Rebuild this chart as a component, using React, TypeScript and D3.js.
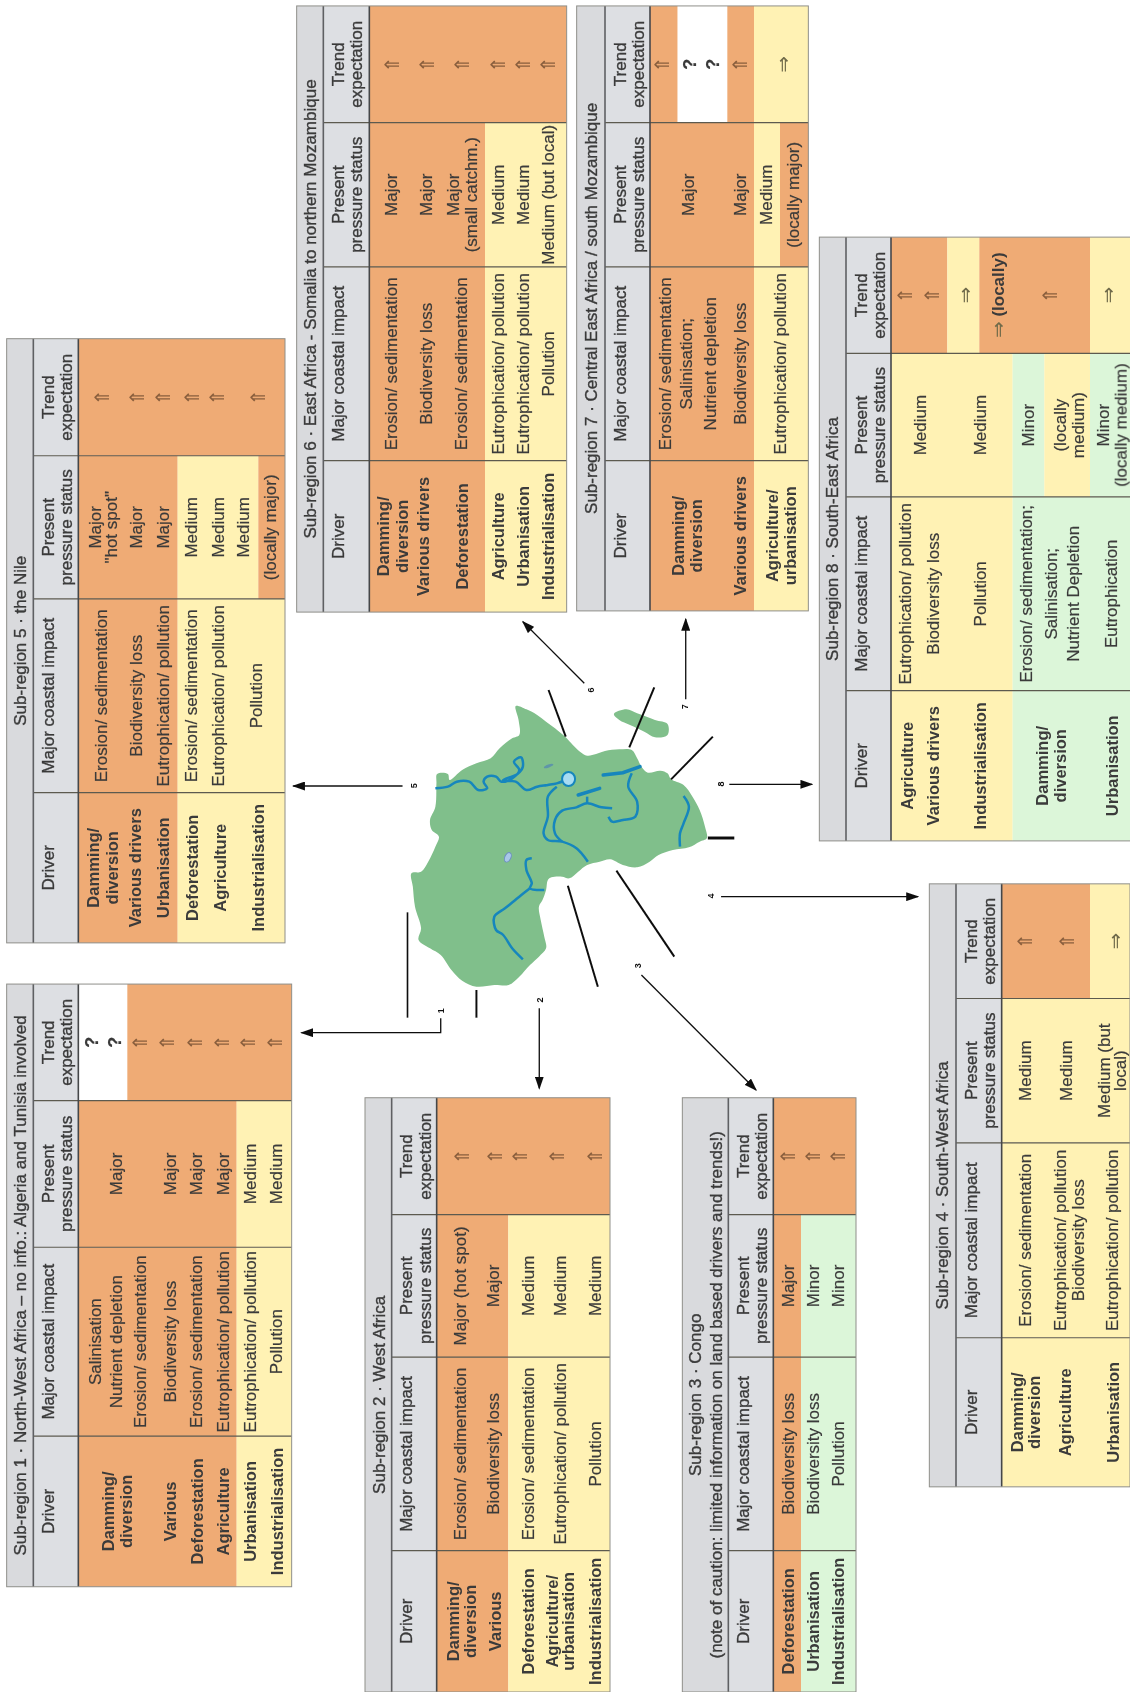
import React from 'react';
import * as d3 from 'd3';

type Pt = [number, number];
type Level = 'major' | 'medium' | 'minor' | 'none';

const FONT = '"Liberation Sans", Arial, "DejaVu Sans", sans-serif';
const INK = '#3a3a3a';
const levelColor: Record<Level, string> = {
    major: '#efab74',
    medium: '#fff2b4',
    minor: '#dcf6d9',
    none: '#ffffff',
};

// Sub-region 1
const r1Title = ['Sub-region 1 · North-West Africa – no info.: Algeria and Tunisia involved'];
const r1Drivers = ['Damming/', 'diversion', 'Various', 'Deforestation', 'Agriculture', 'Urbanisation', 'Industrialisation'];
const r1Impacts = ['Salinisation', 'Nutrient depletion', 'Erosion/ sedimentation', 'Biodiversity loss', 'Erosion/ sedimentation', 'Eutrophication/ pollution', 'Eutrophication/ pollution', 'Pollution'];
const r1Status = ['Major', 'Major', 'Major', 'Major', 'Medium', 'Medium'];
const r1Trend = ['?', '?', '⇑', '⇑', '⇑', '⇑', '⇑', '⇑'];
const r1DriverBands: Level[] = ['major', 'medium'];
const r1StatusBands: Level[] = ['major', 'medium'];
const r1TrendBands: Level[] = ['none', 'major'];

// Sub-region 2
const r2Title = ['Sub-region 2 · West Africa'];
const r2Drivers = ['Damming/', 'diversion', 'Various', 'Deforestation', 'Agriculture/', 'urbanisation', 'Industrialisation'];
const r2Impacts = ['Erosion/ sedimentation', 'Biodiversity loss', 'Erosion/ sedimentation', 'Eutrophication/ pollution', 'Pollution'];
const r2Status = ['Major (hot spot)', 'Major', 'Medium', 'Medium', 'Medium'];
const r2Trend = ['⇑', '⇑', '⇑', '⇑', '⇑'];
const r2DriverBands: Level[] = ['major', 'medium'];
const r2StatusBands: Level[] = ['major', 'medium'];
const r2TrendBands: Level[] = ['major'];

// Sub-region 3
const r3Title = ['Sub-region 3 · Congo', '(note of caution: limited information on land based drivers and trends!)'];
const r3Drivers = ['Deforestation', 'Urbanisation', 'Industrialisation'];
const r3Impacts = ['Biodiversity loss', 'Biodiversity loss', 'Pollution'];
const r3Status = ['Major', 'Minor', 'Minor'];
const r3Trend = ['⇑', '⇑', '⇑'];
const r3DriverBands: Level[] = ['major', 'minor'];
const r3StatusBands: Level[] = ['major', 'minor'];
const r3TrendBands: Level[] = ['major'];

// Sub-region 4
const r4Title = ['Sub-region 4 · South-West Africa'];
const r4Drivers = ['Damming/', 'diversion', 'Agriculture', 'Urbanisation'];
const r4Impacts = ['Erosion/ sedimentation', 'Eutrophication/ pollution', 'Biodiversity loss', 'Eutrophication/ pollution'];
const r4Status = ['Medium', 'Medium', 'Medium (but', 'local)'];
const r4Trend = ['⇑', '⇑', '⇒'];
const r4DriverBands: Level[] = ['medium'];
const r4StatusBands: Level[] = ['medium'];
const r4TrendBands: Level[] = ['major', 'medium'];

// Sub-region 5
const r5Title = ['Sub-region 5 · the Nile'];
const r5Drivers = ['Damming/', 'diversion', 'Various drivers', 'Urbanisation', 'Deforestation', 'Agriculture', 'Industrialisation'];
const r5Impacts = ['Erosion/ sedimentation', 'Biodiversity loss', 'Eutrophication/ pollution', 'Erosion/ sedimentation', 'Eutrophication/ pollution', 'Pollution'];
const r5Status = ['Major', '"hot spot"', 'Major', 'Major', 'Medium', 'Medium', 'Medium', '(locally major)'];
const r5Trend = ['⇑', '⇑', '⇑', '⇑', '⇑', '⇑'];
const r5DriverBands: Level[] = ['major', 'medium'];
const r5StatusBands: Level[] = ['major', 'medium', 'major'];
const r5TrendBands: Level[] = ['major'];

// Sub-region 6
const r6Title = ['Sub-region 6 · East Africa - Somalia to northern Mozambique'];
const r6Drivers = ['Damming/', 'diversion', 'Various drivers', 'Deforestation', 'Agriculture', 'Urbanisation', 'Industrialisation'];
const r6Impacts = ['Erosion/ sedimentation', 'Biodiversity loss', 'Erosion/ sedimentation', 'Eutrophication/ pollution', 'Eutrophication/ pollution', 'Pollution'];
const r6Status = ['Major', 'Major', 'Major', '(small catchm.)', 'Medium', 'Medium', 'Medium (but local)'];
const r6Trend = ['⇑', '⇑', '⇑', '⇑', '⇑', '⇑'];
const r6DriverBands: Level[] = ['major', 'medium'];
const r6StatusBands: Level[] = ['major', 'medium'];
const r6TrendBands: Level[] = ['major'];

// Sub-region 7
const r7Title = ['Sub-region 7 · Central East Africa / south Mozambique'];
const r7Drivers = ['Damming/', 'diversion', 'Various drivers', 'Agriculture/', 'urbanisation'];
const r7Impacts = ['Erosion/ sedimentation', 'Salinisation;', 'Nutrient depletion', 'Biodiversity loss', 'Eutrophication/ pollution'];
const r7Status = ['Major', 'Major', 'Medium', '(locally major)'];
const r7Trend = ['⇑', '?', '?', '⇑', '⇒'];
const r7DriverBands: Level[] = ['major', 'medium'];
const r7StatusBands: Level[] = ['major', 'medium', 'major'];
const r7TrendBands: Level[] = ['major', 'none', 'major', 'medium'];

// Sub-region 8
const r8Title = ['Sub-region 8 · South-East Africa'];
const r8Drivers = ['Agriculture', 'Various drivers', 'Industrialisation', 'Damming/', 'diversion', 'Urbanisation'];
const r8Impacts = ['Eutrophication/ pollution', 'Biodiversity loss', 'Pollution', 'Erosion/ sedimentation;', 'Salinisation;', 'Nutrient Depletion', 'Eutrophication'];
const r8Status = ['Medium', 'Medium', 'Minor', '(locally', 'medium)', 'Minor', '(locally medium)'];
const r8Trend = ['⇑', '⇑', '⇒', '⇒ (locally)', '⇑', '⇒'];
const r8DriverBands: Level[] = ['medium', 'minor'];
const r8StatusBands: Level[] = ['medium', 'minor', 'medium', 'minor'];
const r8TrendBands: Level[] = ['major', 'medium', 'major', 'medium'];

const columnHeads = [['Driver'], ['Major coastal impact'], ['Present', 'pressure status'], ['Trend', 'expectation']];

// Everything below in a layout is measured in the crop the table was read from.
interface Layout {
    crop: [number, number, number, number];
    frame: [number, number, number, number];
    titleEnd: number;
    headEnd: number;
    seps: number[];
    titleRows: number[];
    driverRows: number[];
    impactRows: number[];
    statusRows: number[];
    trendRows: number[];
    driverEdges: number[];
    statusEdges: number[];
    trendEdges: number[];
}

const r1Layout: Layout = {
    crop: [0, 970, 300, 630], frame: [20, 875, 35, 1535], titleEnd: 100, headEnd: 235, seps: [1160, 690, 325],
    titleRows: [62], driverRows: [325, 378, 510, 590, 670, 750, 830],
    impactRows: [285, 350, 420, 510, 590, 670, 750, 830], statusRows: [350, 510, 590, 670, 750, 830],
    trendRows: [275, 345, 420, 500, 585, 665, 745, 825],
    driverEdges: [710], statusEdges: [710], trendEdges: [382],
};
const r2Layout: Layout = {
    crop: [360, 1090, 260, 607], frame: [15, 750, 20, 1555], titleEnd: 95, headEnd: 230, seps: [1190, 690, 322],
    titleRows: [58], driverRows: [280, 330, 405, 505, 575, 625, 705],
    impactRows: [300, 400, 505, 600, 705], statusRows: [300, 400, 505, 600, 705],
    trendRows: [305, 405, 480, 590, 705],
    driverEdges: [445], statusEdges: [445], trendEdges: [],
};
const r3Layout: Layout = {
    crop: [675, 1090, 200, 607], frame: [22, 543, 20, 1555], titleEnd: 160, headEnd: 295, seps: [1190, 690, 322],
    titleRows: [62, 125], driverRows: [340, 415, 490],
    impactRows: [340, 415, 490], statusRows: [340, 415, 490], trendRows: [340, 415, 490],
    driverEdges: [378], statusEdges: [378], trendEdges: [],
};
const r4Layout: Layout = {
    crop: [920, 870, 210, 620], frame: [28, 630, 35, 1560], titleEnd: 108, headEnd: 245, seps: [1183, 690, 325],
    titleRows: [68], driverRows: [290, 342, 435, 578],
    impactRows: [315, 420, 475, 578], statusRows: [315, 440, 552, 600], trendRows: [315, 440, 585],
    driverEdges: [], statusEdges: [], trendEdges: [510],
};
const r5Layout: Layout = {
    crop: [0, 330, 300, 620], frame: [20, 855, 22, 1550], titleEnd: 100, headEnd: 235, seps: [1170, 680, 318],
    titleRows: [62], driverRows: [280, 335, 405, 490, 575, 660, 775],
    impactRows: [305, 410, 490, 575, 655, 770], statusRows: [285, 335, 410, 490, 575, 655, 730, 810],
    trendRows: [305, 410, 490, 575, 650, 775],
    driverEdges: [533], statusEdges: [533, 775], trendEdges: [],
};
const r6Layout: Layout = {
    crop: [290, 0, 290, 620], frame: [20, 830, 15, 1548], titleEnd: 100, headEnd: 238, seps: [1165, 675, 310],
    titleRows: [62], driverRows: [280, 335, 400, 515, 625, 700, 775],
    impactRows: [305, 410, 515, 625, 700, 775], statusRows: [305, 410, 490, 545, 625, 700, 775],
    trendRows: [305, 410, 515, 625, 700, 775],
    driverEdges: [585], statusEdges: [585], trendEdges: [],
};
const r7Layout: Layout = {
    crop: [570, 0, 250, 620], frame: [20, 715, 15, 1545], titleEnd: 105, headEnd: 240, seps: [1165, 675, 310],
    titleRows: [65], driverRows: [325, 378, 510, 605, 660],
    impactRows: [285, 350, 420, 510, 630], statusRows: [355, 510, 590, 670], trendRows: [275, 360, 430, 510, 640],
    driverEdges: [552], statusEdges: [552, 630], trendEdges: [323, 472, 552],
};
const r8Layout: Layout = {
    crop: [810, 230, 320, 620], frame: [28, 962, 18, 1545], titleEnd: 108, headEnd: 243, seps: [1165, 675, 312],
    titleRows: [68], driverRows: [290, 370, 510, 695, 750, 905],
    impactRows: [285, 370, 510, 650, 725, 790, 905], statusRows: [330, 510, 655, 750, 805, 880, 932],
    trendRows: [285, 365, 465, 565, 720, 895],
    driverEdges: [608], statusEdges: [608, 703, 840], trendEdges: [412, 508, 840],
};

const coastline: Pt[] = [[660, 258], [690, 268], [720, 285], [745, 305], [770, 325], [800, 352], [820, 375], [840, 395], [860, 407], [885, 402], [910, 393], [950, 388], [985, 390], [1000, 415], [1012, 440], [1030, 458], [1065, 452], [1085, 460], [1095, 478], [1130, 495], [1155, 530], [1175, 570], [1190, 620], [1195, 655], [1175, 665], [1145, 682], [1100, 690], [1060, 705], [1035, 725], [1000, 742], [960, 735], [925, 718], [895, 725], [860, 735], [835, 755], [810, 775], [790, 770], [760, 772], [750, 780], [745, 810], [735, 840], [725, 860], [730, 900], [740, 950], [745, 985], [725, 1010], [700, 1035], [670, 1070], [640, 1095], [600, 1095], [550, 1100], [510, 1082], [480, 1050], [450, 1005], [420, 985], [388, 960], [395, 925], [378, 860], [372, 800], [368, 760], [395, 755], [415, 725], [435, 680], [445, 650], [425, 630], [420, 600], [435, 560], [438, 490], [440, 462], [470, 462], [475, 480], [510, 450], [550, 430], [590, 415], [615, 385], [650, 355], [670, 345], [668, 300]];
const island: Pt[] = [[935, 282], [970, 268], [1000, 280], [1050, 300], [1085, 312], [1085, 345], [1050, 352], [1020, 335], [980, 315], [950, 300]];
const rivers: Pt[][] = [
    [[435, 505], [470, 500], [495, 485], [530, 485], [555, 510], [580, 505], [570, 485], [580, 470], [605, 470], [620, 485], [650, 475], [670, 450], [655, 425], [675, 412], [680, 440], [665, 462], [625, 480], [660, 485], [690, 510], [720, 500], [750, 495], [775, 490], [800, 480]],
    [[775, 500], [750, 530], [750, 590], [738, 640], [750, 660], [790, 665], [830, 685], [862, 725]],
    [[790, 665], [770, 640], [770, 600], [790, 572], [830, 562], [860, 550], [900, 562], [930, 565]],
    [[860, 530], [860, 550]],
    [[985, 460], [975, 500], [1000, 545], [995, 590], [960, 600], [930, 605], [920, 590]],
    [[1130, 528], [1145, 560], [1130, 610], [1120, 640], [1120, 680]],
    [[705, 715], [690, 720], [690, 750], [705, 790], [700, 805], [740, 810]],
    [[700, 805], [670, 830], [630, 865], [600, 890], [605, 930], [625, 945], [650, 985], [680, 1018]],
];
const riverLakes: Pt[][] = [[[835, 525], [895, 505]], [[905, 465], [960, 458], [1008, 440]]];
const coastBars: Pt[][] = [
    [[752, 210], [800, 350]],
    [[1048, 202], [978, 382]],
    [[1212, 350], [1095, 478]],
    [[1198, 654], [1272, 654]],
    [[942, 752], [1104, 1010]],
    [[806, 797], [890, 1100]],
    [[550, 1110], [550, 1193]],
    [[357, 877], [357, 1193]],
];
const regionArrows: Pt[][] = [
    [[450, 1195], [450, 1238], [60, 1238]],
    [[726, 1165], [726, 1405]],
    [[1012, 1065], [1333, 1410]],
    [[1235, 830], [1786, 830]],
    [[343, 498], [37, 498]],
    [[852, 190], [680, 5]],
    [[1136, 238], [1136, -3]],
    [[1258, 493], [1490, 493]],
];
const regionLabels = ['1', '2', '3', '4', '5', '6', '7', '8'];
const regionLabelAt: Pt[] = [[450, 1172], [727, 1140], [1003, 1037], [1208, 828], [375, 497], [872, 210], [1135, 260], [1234, 492]];

const mapX = d3.scaleLinear().domain([0, 1568]).range([280, 840]);
const mapY = d3.scaleLinear().domain([0, 1440]).range([620, 1100]);
const mapLine = d3.line<Pt>().x(d => mapX(d[0])).y(d => mapY(d[1]));
const mapSmooth = d3.line<Pt>().x(d => mapX(d[0])).y(d => mapY(d[1])).curve(d3.curveCatmullRom);
const mapClosed = d3.line<Pt>().x(d => mapX(d[0])).y(d => mapY(d[1])).curve(d3.curveCatmullRomClosed);

interface Spec {
    title: string[];
    drivers: string[];
    impacts: string[];
    status: string[];
    trend: string[];
    driverBands: Level[];
    statusBands: Level[];
    trendBands: Level[];
    layout: Layout;
}

const tables: Spec[] = [
    { title: r1Title, drivers: r1Drivers, impacts: r1Impacts, status: r1Status, trend: r1Trend, driverBands: r1DriverBands, statusBands: r1StatusBands, trendBands: r1TrendBands, layout: r1Layout },
    { title: r2Title, drivers: r2Drivers, impacts: r2Impacts, status: r2Status, trend: r2Trend, driverBands: r2DriverBands, statusBands: r2StatusBands, trendBands: r2TrendBands, layout: r2Layout },
    { title: r3Title, drivers: r3Drivers, impacts: r3Impacts, status: r3Status, trend: r3Trend, driverBands: r3DriverBands, statusBands: r3StatusBands, trendBands: r3TrendBands, layout: r3Layout },
    { title: r4Title, drivers: r4Drivers, impacts: r4Impacts, status: r4Status, trend: r4Trend, driverBands: r4DriverBands, statusBands: r4StatusBands, trendBands: r4TrendBands, layout: r4Layout },
    { title: r5Title, drivers: r5Drivers, impacts: r5Impacts, status: r5Status, trend: r5Trend, driverBands: r5DriverBands, statusBands: r5StatusBands, trendBands: r5TrendBands, layout: r5Layout },
    { title: r6Title, drivers: r6Drivers, impacts: r6Impacts, status: r6Status, trend: r6Trend, driverBands: r6DriverBands, statusBands: r6StatusBands, trendBands: r6TrendBands, layout: r6Layout },
    { title: r7Title, drivers: r7Drivers, impacts: r7Impacts, status: r7Status, trend: r7Trend, driverBands: r7DriverBands, statusBands: r7StatusBands, trendBands: r7TrendBands, layout: r7Layout },
    { title: r8Title, drivers: r8Drivers, impacts: r8Impacts, status: r8Status, trend: r8Trend, driverBands: r8DriverBands, statusBands: r8StatusBands, trendBands: r8TrendBands, layout: r8Layout },
];

const Up = ({ x, y, text, size = 17, weight = 400, fill = INK, thick = 0.2 }: { x: number; y: number; text: string; size?: number; weight?: number; fill?: string; thick?: number }) => (
    <text
        transform={`translate(${x},${y}) rotate(-90)`}
        textAnchor="middle"
        dominantBaseline="central"
        fontFamily={FONT}
        fontSize={size}
        fontWeight={weight}
        fill={fill}
        stroke={fill}
        strokeWidth={thick}
    >
        {text}
    </text>
);

// the trend cell: arrows are drawn in DejaVu, which has the larger glyphs
const TrendMark = ({ x, y, text }: { x: number; y: number; text: string }) => {
    if (text === '?') return <Up x={x} y={y} text={text} weight={700} size={18} />;
    const arrow = text.slice(0, 1);
    const rest = text.slice(1);
    const fill = arrow === '⇒' ? '#6f6a4a' : '#8a5f3e';
    return (
        <text
            transform={`translate(${x},${y}) rotate(-90)`}
            textAnchor="middle"
            dominantBaseline="central"
            fontFamily={FONT}
            fontSize={17}
        >
            <tspan fontFamily='"DejaVu Sans"' fontSize={20} fill={fill}>{arrow}</tspan>
            {rest && <tspan fontWeight={700} fill={INK}>{rest}</tspan>}
        </text>
    );
};

const Table = ({ spec }: { spec: Spec }) => {
    const { layout: l } = spec;
    const [cx, cy, cw, ch] = l.crop;
    const px = d3.scaleLinear().domain([0, cw * 3 > 1568 ? 1568 : cw * 3]).range([cx, cx + cw]);
    const py = d3.scaleLinear().domain([0, ch * 3 > 1568 ? 1568 : ch * 3]).range([cy, cy + ch]);
    const [fx0, fx1, fy0, fy1] = l.frame;
    const left = px(fx0);
    const right = px(fx1);
    const titleEnd = px(l.titleEnd);
    const headEnd = px(l.headEnd);
    const top = py(fy0);
    const bottom = py(fy1);
    // columns run from the bottom of the page upwards
    const rowEdges = [bottom, ...l.seps.map(s => py(s)), top];
    const colMid = (i: number) => (rowEdges[i] + rowEdges[i + 1]) / 2;

    const bandRects = (col: number, edges: number[], bands: Level[]) => {
        const xs = [l.headEnd, ...edges, fx1].map(v => px(v));
        return bands.map((b, i) => (
            <rect key={`${col}-${i}`} x={xs[i]} y={rowEdges[col + 1]} width={xs[i + 1] - xs[i]} height={rowEdges[col] - rowEdges[col + 1]} fill={levelColor[b]} />
        ));
    };

    return (
        <g>
            <rect x={left} y={top} width={titleEnd - left} height={bottom - top} fill="#d9dadd" />
            <rect x={titleEnd} y={top} width={headEnd - titleEnd} height={bottom - top} fill="#dddfe3" />
            {bandRects(0, l.driverEdges, spec.driverBands)}
            {bandRects(1, l.driverEdges, spec.driverBands)}
            {bandRects(2, l.statusEdges, spec.statusBands)}
            {bandRects(3, l.trendEdges, spec.trendBands)}
            {l.seps.map((s, i) => (
                <line key={i} x1={titleEnd} x2={right} y1={py(s)} y2={py(s)} stroke="#5c5a50" strokeWidth={1.2} />
            ))}
            <line x1={titleEnd} x2={titleEnd} y1={top} y2={bottom} stroke="#5f6064" strokeWidth={1.6} />
            <line x1={headEnd} x2={headEnd} y1={top} y2={bottom} stroke="#45464a" strokeWidth={1.6} />
            <rect x={left} y={top} width={right - left} height={bottom - top} fill="none" stroke="#8f8f8a" strokeWidth={1} />

            {spec.title.map((t, i) => (
                <Up key={i} x={px(l.titleRows[i])} y={(top + bottom) / 2} text={t} thick={0.35} />
            ))}
            {columnHeads.map((lines, c) =>
                lines.map((t, i) => <Up key={`${c}-${i}`} x={titleEnd + 15 + i * 18.5} y={colMid(c)} text={t} thick={0.35} />)
            )}
            {spec.drivers.map((t, i) => (
                <Up key={i} x={px(l.driverRows[i])} y={colMid(0)} text={t} weight={700} size={16.5} thick={0} />
            ))}
            {spec.impacts.map((t, i) => (
                <Up key={i} x={px(l.impactRows[i])} y={colMid(1)} text={t} />
            ))}
            {spec.status.map((t, i) => (
                <Up key={i} x={px(l.statusRows[i])} y={colMid(2)} text={t} />
            ))}
            {spec.trend.map((t, i) => (
                <TrendMark key={i} x={px(l.trendRows[i])} y={colMid(3)} text={t} />
            ))}
        </g>
    );
};

export default function App() {
    return (
        <svg width={1130} height={1697} style={{ position: 'absolute', left: 0, top: 0, background: '#fff' }}>
            <defs>
                <marker id="tip" viewBox="0 0 10 10" refX={9} refY={5} markerWidth={13} markerHeight={9} markerUnits="userSpaceOnUse" orient="auto" preserveAspectRatio="none">
                    <path d="M0,0L10,5L0,10Z" fill="#111" />
                </marker>
                <filter id="soft" x="0" y="0" width="100%" height="100%">
                    <feGaussianBlur stdDeviation={0.45} />
                </filter>
            </defs>

            <g filter="url(#soft)">
                {tables.map((t, i) => (
                    <Table key={i} spec={t} />
                ))}

                <path d={mapClosed(coastline) || ''} fill="#80bf8b" />
                <path d={mapClosed(island) || ''} fill="#80bf8b" />
                {rivers.map((r, i) => (
                    <path key={i} d={mapSmooth(r) || ''} fill="none" stroke="#1586bd" strokeWidth={2.5} strokeLinejoin="round" />
                ))}
                {riverLakes.map((r, i) => (
                    <path key={i} d={mapLine(r) || ''} fill="none" stroke="#1586bd" strokeWidth={3.5} strokeLinecap="round" />
                ))}
                <ellipse cx={mapX(808)} cy={mapY(477)} rx={6.5} ry={7} fill="#a8dcf2" stroke="#1586bd" strokeWidth={2} />
                <ellipse cx={mapX(638)} cy={mapY(712)} rx={3} ry={5} fill="#a9c8e8" stroke="#6d8fc4" strokeWidth={1} transform={`rotate(25 ${mapX(638)} ${mapY(712)})`} />
                <ellipse cx={mapX(752)} cy={mapY(438)} rx={5} ry={1.5} fill="#5f95a8" transform={`rotate(-20 ${mapX(752)} ${mapY(438)})`} />

                {coastBars.map((b, i) => (
                    <path key={i} d={mapLine(b) || ''} fill="none" stroke="#111" strokeWidth={i === 3 ? 3 : i === 7 ? 1.6 : 2} />
                ))}
                {regionArrows.map((a, i) => (
                    <path key={i} d={mapLine(a) || ''} fill="none" stroke="#111" strokeWidth={1.3} markerEnd="url(#tip)" />
                ))}
                {regionLabels.map((t, i) => (
                    <Up key={i} x={mapX(regionLabelAt[i][0])} y={mapY(regionLabelAt[i][1])} text={t} size={9} weight={700} fill="#111" thick={0} />
                ))}
            </g>
        </svg>
    );
}
